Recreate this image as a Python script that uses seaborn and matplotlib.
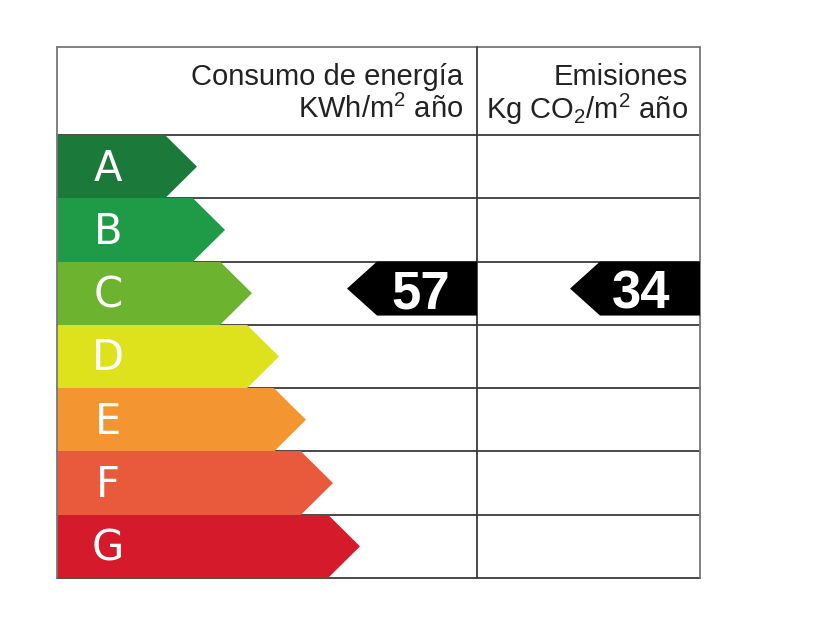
import matplotlib
matplotlib.use("Agg")
import matplotlib.pyplot as plt
from matplotlib.patches import Polygon
import seaborn as sns
import pandas as pd

# ---- data ----
letters = ["A", "B", "C", "D", "E", "F", "G"]
bar_lengths = [108, 136, 163, 190, 217, 244, 271]
colors = ["#1b7a3a", "#1f9a47", "#6cb42f", "#dde21c", "#f39631", "#e95a3d", "#d41a2b"]
energy_value = 57
energy_rating = "C"
emission_value = 34
emission_rating = "C"
header_energy = ["Consumo de energía", "KWh/m$^2$ año"]
header_emission = ["Emisiones", "Kg CO$_2$/m$^2$ año"]

# ---- style ----
sns.set_theme(style="white")
plt.rcParams["font.family"] = ["Liberation Sans", "DejaVu Sans"]
plt.rcParams["mathtext.fontset"] = "custom"
plt.rcParams["mathtext.rm"] = "Liberation Sans"
plt.rcParams["mathtext.it"] = "Liberation Sans"

W, H = 840, 630
fig = plt.figure(figsize=(W / 100, H / 100), dpi=100)
fig.patch.set_facecolor("white")
left, right, top, bottom = 57, 700, 135, 578
ax = fig.add_axes([left / W, (H - bottom) / H, (right - left) / W, (bottom - top) / H])
xmax = right - left
row_px = (bottom - top) / len(letters)

df = pd.DataFrame({"letter": letters, "length": bar_lengths})
sns.barplot(data=df, y="letter", x="length", hue="letter", palette=colors,
            width=1.0, saturation=1, legend=False, ax=ax, linewidth=0, zorder=2)
ax.set_ylim(len(letters) - 0.5, -0.5)
ax.set_xlim(0, xmax)

tip = 32
for i, (L, c) in enumerate(zip(bar_lengths, colors)):
    ax.add_patch(Polygon([(L, i - 0.5), (L + tip, i), (L, i + 0.5)],
                         closed=True, facecolor=c, edgecolor="none", zorder=2))
    ax.text(51, i + 0.03, letters[i], color="white", fontsize=30, ha="center",
            va="center", family="DejaVu Sans", zorder=3)

# grid
div_x = 477 - left
header_top = -0.5 - (top - 47) / row_px
lc = "#3a3a3a"
for i in range(len(letters) + 1):
    ax.plot([0, xmax], [i - 0.5, i - 0.5], color=lc, lw=1.3, zorder=1, clip_on=False)
ax.plot([0, xmax], [header_top, header_top], color="#777777", lw=1.3, zorder=1, clip_on=False)
ax.plot([div_x, div_x], [header_top, len(letters) - 0.5], color=lc, lw=1.3, zorder=4, clip_on=False)
ax.plot([0, 0], [header_top, len(letters) - 0.5], color="#777777", lw=1.3, zorder=4, clip_on=False)
ax.plot([xmax, xmax], [header_top, len(letters) - 0.5], color="#777777", lw=1.3, zorder=4, clip_on=False)

# headers
y1 = -0.5 - (top - 77) / row_px
y2 = -0.5 - (top - 109) / row_px
hs = 21
ax.text(div_x - 14, y1, header_energy[0], ha="right", va="center", fontsize=hs, color="#222222", clip_on=False)
ax.text(div_x - 14, y2, header_energy[1], ha="right", va="center", fontsize=hs, color="#222222", clip_on=False)
ax.text(xmax - 12, y1, header_emission[0], ha="right", va="center", fontsize=hs, color="#222222", clip_on=False)
ax.text(xmax - 12, y2, header_emission[1], ha="right", va="center", fontsize=hs, color="#222222", clip_on=False)

# value markers
def marker(x_end, rating, value, text_x):
    i = letters.index(rating)
    body = 100
    tipw = 30
    y0 = i - 0.5
    y1_ = y0 + 54 / row_px
    ym = (y0 + y1_) / 2
    ax.add_patch(Polygon([(x_end, y0), (x_end - body, y0), (x_end - body - tipw, ym),
                          (x_end - body, y1_), (x_end, y1_)], closed=True,
                         facecolor="black", edgecolor="none", zorder=5))
    base = y0 + 46.5 / row_px
    ax.text(text_x, base, str(value), color="white", fontsize=38,
            fontweight="bold", ha="center", va="baseline", zorder=6)

marker(div_x, energy_rating, energy_value, 421 - left)
marker(xmax, emission_rating, emission_value, 641 - left)

ax.axis("off")
fig.savefig("out.png", dpi=100, facecolor="white")
